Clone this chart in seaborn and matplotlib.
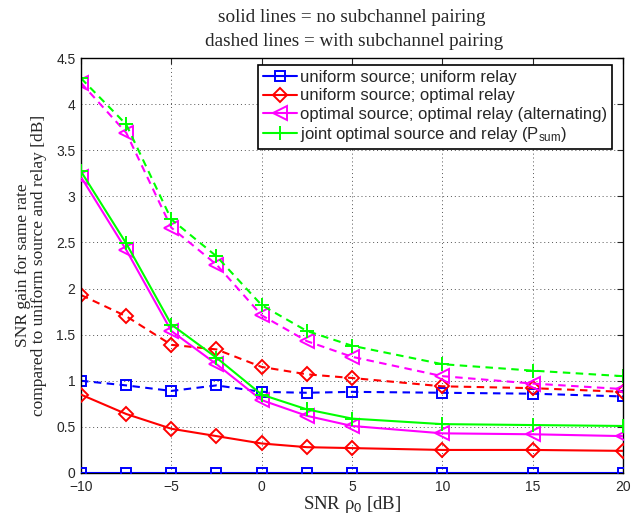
import numpy as np
import pandas as pd
import matplotlib
matplotlib.use("Agg")
import matplotlib.pyplot as plt
import seaborn as sns

snr = [-10, -7.5, -5, -2.5, 0, 2.5, 5, 10, 15, 20]

uu_solid = [0, 0, 0, 0, 0, 0, 0, 0, 0, 0]
uu_dashed = [1.00, 0.95, 0.89, 0.95, 0.88, 0.87, 0.88, 0.87, 0.86, 0.83]
uo_solid = [0.85, 0.64, 0.48, 0.40, 0.32, 0.28, 0.27, 0.25, 0.25, 0.24]
uo_dashed = [1.93, 1.70, 1.39, 1.34, 1.15, 1.07, 1.03, 0.94, 0.92, 0.88]
oo_solid = [3.21, 2.42, 1.54, 1.18, 0.79, 0.62, 0.51, 0.43, 0.42, 0.40]
oo_dashed = [4.23, 3.69, 2.66, 2.26, 1.71, 1.43, 1.26, 1.05, 0.97, 0.91]
jo_solid = [3.27, 2.49, 1.61, 1.25, 0.85, 0.69, 0.59, 0.53, 0.52, 0.51]
jo_dashed = [4.28, 3.78, 2.75, 2.35, 1.82, 1.54, 1.38, 1.18, 1.11, 1.05]

labels = ["uniform source; uniform relay",
          "uniform source; optimal relay",
          "optimal source; optimal relay (alternating)",
          "joint optimal source and relay (P$_{\\mathrm{sum}}$)"]
colors = ["#0000ff", "#ff0000", "#ff00ff", "#00ff00"]
markers = ["s", "D", "<", "+"]
msizes = [6.8, 7.3, 10, 10]

sns.set_style("white")
plt.rcParams['font.family'] = ['Liberation Sans', 'DejaVu Sans']
plt.rcParams['mathtext.fontset'] = 'custom'
plt.rcParams['mathtext.rm'] = 'Liberation Sans'
plt.rcParams['mathtext.it'] = 'Liberation Sans:italic'
plt.rcParams['mathtext.bf'] = 'Liberation Sans:bold'

fig = plt.figure(figsize=(6.32, 5.16), dpi=100)
ax = fig.add_axes([81 / 632, 1 - 473 / 516, 542 / 632, 415 / 516])

solids = [uu_solid, uo_solid, oo_solid, jo_solid]
dashes = [uu_dashed, uo_dashed, oo_dashed, jo_dashed]

for i in range(4):
    sns.lineplot(x=snr, y=dashes[i], ax=ax, color=colors[i], marker=markers[i],
                 markersize=msizes[i], markerfacecolor='none', markeredgecolor=colors[i],
                 markeredgewidth=1.4, linewidth=1.5, linestyle=(0, (3.6, 2.6)), zorder=2)
for i in range(4):
    sns.lineplot(x=snr, y=solids[i], ax=ax, color=colors[i], marker=markers[i],
                 markersize=msizes[i], markerfacecolor='none', markeredgecolor=colors[i],
                 markeredgewidth=1.4, linewidth=1.5, linestyle='-', label=labels[i], zorder=3)

ax.set_xlim(-10, 20)
ax.set_ylim(0, 4.5)
ax.set_xticks([-10, -5, 0, 5, 10, 15, 20])
ax.set_xticklabels(["\u221210", "\u22125", "0", "5", "10", "15", "20"])
ax.set_yticks([0, 0.5, 1, 1.5, 2, 2.5, 3, 3.5, 4, 4.5])
ax.set_yticklabels(["0", "0.5", "1", "1.5", "2", "2.5", "3", "3.5", "4", "4.5"])
ax.tick_params(direction='in', top=True, right=True, labelsize=10, length=4, width=0.8)
ax.tick_params(axis='x', pad=5)
ax.tick_params(axis='y', pad=4)
ax.grid(True, linestyle=(0, (1, 3)), color='#555555', linewidth=0.7)
for s in ax.spines.values():
    s.set_color('black')
    s.set_linewidth(1.0)

serif = ['Liberation Serif', 'DejaVu Serif']
ax.set_xlabel("SNR \u03c1$_0$ [dB]", family=serif, fontsize=13.5, labelpad=0)
ax.set_ylabel("SNR gain for same rate\ncompared to uniform source and relay [dB]",
              family=serif, fontsize=12.5, linespacing=1.0)
ax.yaxis.set_label_coords(-0.062, 0.5)
fig.text(352 / 632, 1 - 18 / 516, "solid lines = no subchannel pairing",
         family=serif, fontsize=13.8, ha='center', va='center')
fig.text(354 / 632, 1 - 41 / 516, "dashed lines = with subchannel pairing",
         family=serif, fontsize=13.8, ha='center', va='center')

leg = ax.legend(loc='upper right', bbox_to_anchor=(0.980, 0.983), fontsize=12,
                frameon=True, fancybox=False, edgecolor='black', framealpha=1,
                handlelength=2.0, handletextpad=0.2, borderpad=0.3, labelspacing=0.2,
                borderaxespad=0)
leg.get_frame().set_linewidth(1.2)

fig.savefig("out.png", dpi=100)
